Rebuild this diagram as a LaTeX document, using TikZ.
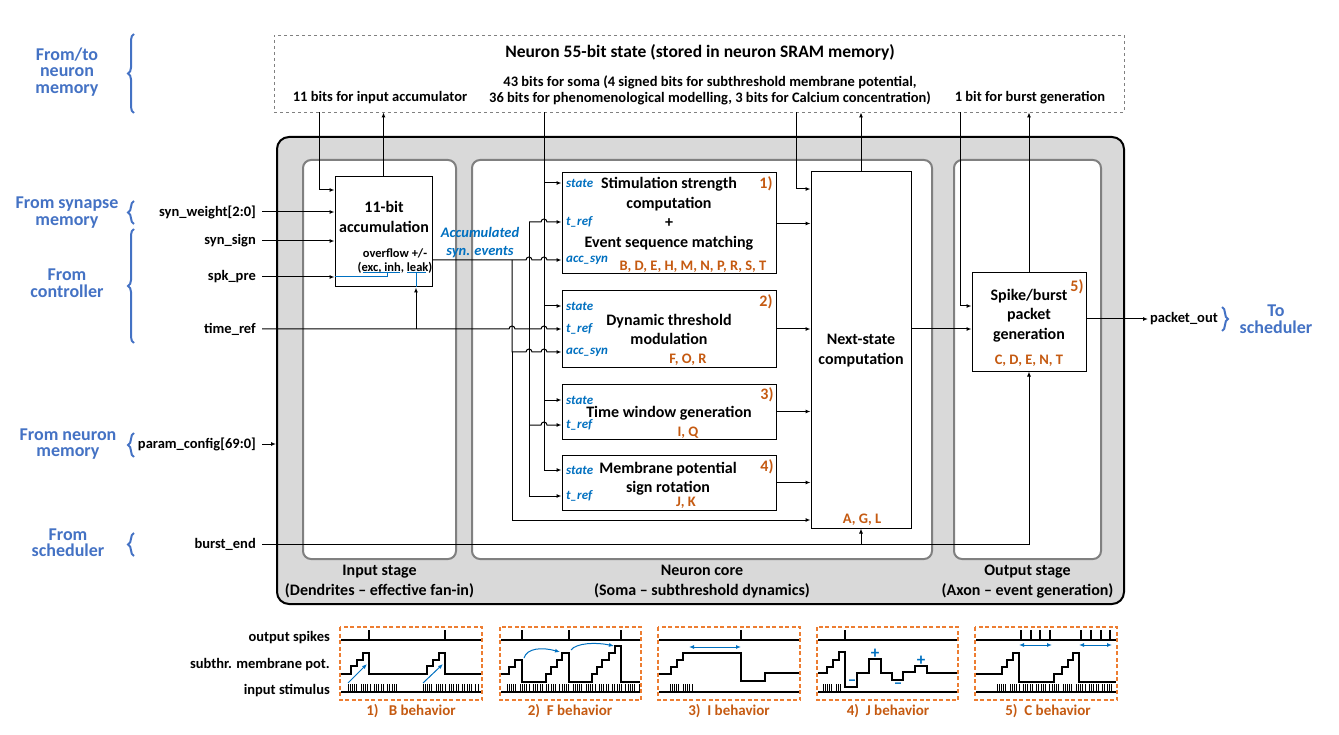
\documentclass[tikz,border=0pt]{standalone}
\usepackage{fontspec}
\setmainfont{Carlito}
\usetikzlibrary{arrows.meta,positioning,calc,decorations.pathreplacing}
\definecolor{srcblue}{HTML}{4472C4}
\definecolor{portblue}{HTML}{0070C0}
\definecolor{codeorange}{HTML}{C55A11}
\definecolor{waveorange}{HTML}{ED7D31}
\definecolor{stagegray}{HTML}{D9D9D9}
\definecolor{panelgray}{HTML}{808080}
\tikzset{
  wire/.style={line width=1pt},
  arrow/.style={wire, -{Latex[length=5pt,width=4pt]}},
  bluewire/.style={line width=1pt, draw=portblue},
  twoway/.style={line width=1pt, draw=portblue, {Latex[length=5pt,width=4pt]}-{Latex[length=5pt,width=4pt]}},
  fnbox/.style={draw=black, line width=1pt, fill=white, inner sep=0pt},
  membox/.style={draw=black!50, dashed, line width=0.8pt, inner sep=0pt},
  outerbox/.style={draw=black, line width=2pt, fill=stagegray, rounded corners=12pt, inner sep=0pt},
  stagepanel/.style={draw=panelgray, line width=2pt, fill=white, rounded corners=8pt, inner sep=0pt},
  sigtext/.style={font=\fontsize{14.5}{16}\selectfont\bfseries, inner sep=0pt},
  sigin/.style={sigtext, anchor=east, inner xsep=6pt},
  memtext/.style={font=\fontsize{14.5}{15.5}\selectfont\bfseries, align=center, inner sep=0pt},
  boxtext/.style={font=\fontsize{16}{19.5}\selectfont\bfseries, align=center, inner sep=0pt},
  port/.style={font=\fontsize{13}{14}\selectfont\bfseries\itshape, text=portblue, anchor=west, inner sep=0pt},
  lettercode/.style={font=\fontsize{14.5}{16}\selectfont\bfseries, text=codeorange, inner sep=0pt},
  boxnum/.style={font=\fontsize{16}{18}\selectfont\bfseries, text=codeorange, inner sep=0pt},
  srclabel/.style={font=\fontsize{18}{16.5}\selectfont\bfseries, text=srcblue, align=center, inner sep=0pt},
  srcbrace/.style={draw=srcblue, line width=2pt, decorate, decoration={brace, amplitude=6pt}},
  wave/.style={line width=1.2pt},
  stimtick/.style={line width=0.8pt},
  wavepanel/.style={draw=waveorange, line width=2.5pt, dash pattern=on 4pt off 2.5pt},
  wavelabel/.style={font=\fontsize{14.5}{16}\selectfont\bfseries, anchor=east, inner sep=0pt},
  behavior/.style={font=\fontsize{15}{16}\selectfont\bfseries, text=codeorange, inner sep=0pt},
  sign/.style={font=\fontsize{17}{17}\selectfont\bfseries, text=portblue, inner sep=0pt}
}
% input stimulus ticks between two x positions
\newcommand{\stimticks}[2]{%
  \pgfmathtruncatemacro\ntick{(#2-#1)/2.2}%
  \foreach \tk in {0,...,\ntick}{%
    \pgfmathtruncatemacro\tickgap{mod(\tk,6)}%
    \ifnum\tickgap<5 \draw[stimtick] ({#1+2.2*\tk},692) -- ({#1+2.2*\tk},684);\fi}}

\begin{document}
\begin{tikzpicture}[x=1pt,y=-1pt]
\useasboundingbox (0,0) rectangle (1339,735);

% memory and stages
\node[membox, minimum width=850pt, minimum height=77pt] (mem) at (699,73.5) {};
\node[outerbox, minimum width=847pt, minimum height=467pt] (core) at (700.5,370.5) {};
\node[stagepanel, minimum width=153pt, minimum height=399pt] (inpanel) at (379.5,359.5) {};
\node[stagepanel, minimum width=460pt, minimum height=399pt] (corepanel) at (702,359.5) {};
\node[stagepanel, minimum width=147pt, minimum height=399pt] (outpanel) at (1027.5,359.5) {};
\node[boxtext] (instage) at (379.5,581.5) {Input stage\\(Dendrites -- effective fan-in)};
\node[boxtext] (corestage) at (702,581.5) {Neuron core\\(Soma -- subthreshold dynamics)};
\node[boxtext] (outstage) at (1027.5,581.5) {Output stage\\(Axon -- event generation)};

\node[font=\fontsize{17.5}{18}\selectfont\bfseries] (memtitle) at (700,52) {Neuron 55-bit state (stored in neuron SRAM memory)};
\node[memtext] (accbits) at (380,98) {11 bits for input accumulator};
\node[memtext] (somabits) at (710,90.5) {43 bits for soma (4 signed bits for subthreshold membrane potential,\\36 bits for phenomenological modelling, 3 bits for Calcium concentration)};
\node[memtext] (burstbits) at (1030,98) {1 bit for burst generation};

% sources
\node[srclabel] (srcmem) at (67,72) {From/to\\neuron\\memory};
\node[srclabel, font=\fontsize{18}{17}\selectfont\bfseries] (srcsyn) at (67,212.5) {From synapse\\memory};
\node[srclabel] (srcctrl) at (67,283) {From\\controller};
\node[srclabel] (srcparam) at (68,444) {From neuron\\memory};
\node[srclabel] (srcsched) at (68,542.5) {From\\scheduler};
\node[srclabel] (dstsched) at (1276,319) {To\\scheduler};
\draw[srcbrace] (134,113) -- (134,34);
\draw[srcbrace] (134,224) -- (134,201);
\draw[srcbrace] (134,343) -- (134,229);
\draw[srcbrace] (134,457) -- (134,433);
\draw[srcbrace] (134,556) -- (134,533);
\draw[srcbrace] (1222,307) -- (1222,331);

\node[sigin] (wgt) at (262,212) {syn\_weight[2:0]};
\node[sigin] (sign) at (262,241) {syn\_sign};
\node[sigin] (spk) at (262,277) {spk\_pre};
\node[sigin] (tref) at (262,329) {time\_ref};
\node[sigin] (param) at (262,444) {param\_config[69:0]};
\node[sigin] (bend) at (262,544) {burst\_end};
\node[sigtext, anchor=west, inner xsep=2pt] (pout) at (1148,319) {packet\_out};

% blocks
\node[fnbox, minimum width=97pt, minimum height=110pt] (acc) at (383.5,232) {};
\node[fnbox, minimum width=214pt, minimum height=101pt] (stim) at (669,223.5) {};
\node[fnbox, minimum width=214pt, minimum height=76pt] (dyn) at (669,329) {};
\node[fnbox, minimum width=214pt, minimum height=55pt] (tw) at (669,411.5) {};
\node[fnbox, minimum width=214pt, minimum height=55pt] (memb) at (669,482.5) {};
\node[fnbox, minimum width=100pt, minimum height=356pt] (next) at (861,350) {};
\node[fnbox, minimum width=114pt, minimum height=98pt] (spike) at (1029,322) {};

\node[boxtext] at (384,217) {11-bit\\accumulation};
\node[font=\fontsize{12.5}{14}\selectfont\bfseries, align=center, inner sep=0pt] at (395,261) {overflow +/-\\(exc, inh, leak)};
\node[boxtext] at (669,213.5) {Stimulation strength\\computation\\+\\Event sequence matching};
\node[boxtext] at (669,329.5) {Dynamic threshold\\modulation};
\node[boxtext] at (669,413) {Time window generation};
\node[boxtext] at (668,478.5) {Membrane potential\\sign rotation};
\node[boxtext] at (861,350.5) {Next-state\\computation};
\node[boxtext] at (1029,315.5) {Spike/burst\\packet\\generation};

\node[boxnum] at (766,184) {1)};
\node[boxnum] at (766,302) {2)};
\node[boxnum] at (767,395) {3)};
\node[boxnum] at (767,467) {4)};
\node[boxnum] at (1077,287) {5)};
\node[lettercode] at (693,267) {B, D, E, H, M, N, P, R, S, T};
\node[lettercode] at (688,360) {F, O, R};
\node[lettercode] at (688,433) {I, Q};
\node[lettercode] at (686,503) {J, K};
\node[lettercode] at (862,520) {A, G, L};
\node[lettercode] at (1029,361) {C, D, E, N, T};

\node[port] at (566,183) {state};
\node[port] at (566,222) {t\_ref};
\node[port] at (566,260) {acc\_syn};
\node[port] at (566,306) {state};
\node[port] at (566,329) {t\_ref};
\node[port] at (566,352) {acc\_syn};
\node[port] at (566,400) {state};
\node[port] at (566,425) {t\_ref};
\node[port] at (566,470) {state};
\node[port] at (566,496) {t\_ref};
\node[font=\fontsize{14.5}{18}\selectfont\bfseries\itshape, text=portblue, align=center, inner sep=0pt] at (480,243) {Accumulated\\syn. events};

% input stage wiring
\draw[arrow] (wgt.east) -- (acc.west |- wgt.east);
\draw[arrow] (sign.east) -- (acc.west |- sign.east);
\draw[arrow] (spk.east) -- (acc.west |- spk.east);
\draw[arrow] (param.east) -- (core.west |- param.east);
\draw[arrow] (mem.south -| 319,0) |- (acc.west |- 0,190);
\draw[arrow] (acc.north) -- (acc.north |- mem.south);
\coordinate (leak) at (416,273);
\draw[arrow] (leak |- tref.east) -- (leak |- acc.south);
\draw[bluewire] (acc.west |- spk.east) -- (387,277) -- (387,273);
\draw[bluewire] (363,273) -- (400,273);
\draw[bluewire] (407,273) -- (426,273);
\draw[bluewire] (leak) -- (leak |- acc.south);

% core buses
\draw[wire] (tref.east) -- (509,329) arc (180:360:3) -- (529,329);
\draw[arrow] (acc.east |- 0,260) -- (526,260) arc (180:360:3) -- (541,260) arc (180:360:3) -- (stim.west |- 0,260);
\draw[arrow] (512,260) -- (512,352) -- (526,352) arc (180:360:3) -- (541,352) arc (180:360:3) -- (dyn.west |- 0,352);
\draw[arrow] (512,352) -- (512,520) -- (next.west |- 0,520);
\draw[wire] (529,222) -- (529,496);
\draw[arrow] (529,222) -- (541,222) arc (180:360:3) -- (stim.west |- 0,222);
\draw[arrow] (529,329) -- (541,329) arc (180:360:3) -- (dyn.west |- 0,329);
\draw[arrow] (529,425) -- (541,425) arc (180:360:3) -- (tw.west |- 0,425);
\draw[arrow] (529,496) -- (memb.west |- 0,496);
\draw[arrow] (mem.south -| 544,0) -- (544,470) -- (memb.west |- 0,470);
\draw[arrow] (544,183) -- (stim.west |- 0,183);
\draw[arrow] (544,306) -- (dyn.west |- 0,306);
\draw[arrow] (544,400) -- (tw.west |- 0,400);

% next state and output
\draw[arrow] (stim.east) -- (next.west |- stim.east);
\draw[arrow] (dyn.east) -- (next.west |- dyn.east);
\draw[arrow] (tw.east) -- (next.west |- tw.east);
\draw[arrow] (memb.east) -- (next.west |- memb.east);
\draw[arrow] (mem.south -| 796,0) |- (next.west |- 0,189);
\draw[arrow] (next.north) -- (next.north |- mem.south);
\draw[arrow] (next.east |- 0,329) -- (spike.west |- 0,329);
\draw[arrow] (mem.south -| 960,0) |- (spike.west |- 0,306);
\draw[arrow] (spike.north) -- (spike.north |- mem.south);
\draw[arrow] (spike.east |- pout.west) -- (pout.west);
\draw[arrow] (bend.east) -| (spike.south);
\draw[arrow] (next.south |- bend.east) -- (next.south);

% behaviour panels
\node[wavelabel] at (330,638) {output spikes};
\node[wavelabel] at (330,665) {subthr. membrane pot.};
\node[wavelabel] at (330,691) {input stimulus};
\draw[wavepanel] (340,627) rectangle (482,700);
\draw[wavepanel] (500,627) rectangle (641,700);
\draw[wavepanel] (658,627) rectangle (800,700);
\draw[wavepanel] (817,627) rectangle (958,700);
\draw[wavepanel] (975,627) rectangle (1117,700);
\foreach \px/\qx in {341/481, 501/640, 659/799, 818/957, 976/1116} {
  \draw[wave] (\px,640) -- (\qx,640);
  \draw[wave] (\px,692) -- (\qx,692);
}

% 1) B
\foreach \sx in {369,445} \draw[wave] (\sx,640) -- (\sx,630);
\draw[wave] (341,674) -| (351,666) -| (357,660) -| (363,653) -| (369,674) -| (427,666) -| (433,660) -| (439,653) -| (445,674) -- (481,674);
\stimticks{348}{400}
\stimticks{423}{478}
\draw[bluewire, -{Latex[length=5pt,width=4pt]}] (348,683) -- (367,664);
\draw[bluewire, -{Latex[length=5pt,width=4pt]}] (423,683) -- (443,664);
\node[behavior] at (411,711) {1)\ \ \ B behavior};

% 2) F
\foreach \sx in {522,569,621} \draw[wave] (\sx,640) -- (\sx,630);
\draw[wave] (501,674) -| (509,667) -| (515,660) -| (522,682) -| (546,674) -| (551,667) -| (557,660) -| (562,653) -| (569,682) -| (592,674) -| (597,667) -| (602,660) -| (609,653) -| (615,646) -| (621,682) -- (640,682);
\stimticks{507}{639}
\draw[bluewire, -{Latex[length=5pt,width=4pt]}] (524,658) .. controls (527,648) and (542,647) .. (560,652);
\draw[bluewire, -{Latex[length=5pt,width=4pt]}] (571,650) .. controls (576,643) and (596,642) .. (614,646);
\node[behavior] at (570,711) {2)\ \ F behavior};

% 3) I
\draw[wave] (741,640) -- (741,630);
\draw[wave] (659,674) -| (671,667) -| (677,660) -| (683,653) -| (741,681) -| (765,673) -- (799,673);
\stimticks{670}{695}
\draw[twoway] (689,647) -- (741,647);
\node[behavior] at (729,711) {3)\ \ I behavior};

% 4) J
\draw[wave] (845,640) -- (845,630);
\draw[wave] (818,673) -| (827,667) -| (833,660) -| (839,652) -| (845,687) -| (857,673) -| (869,659) -| (881,673) -| (892,680) -| (903,672) -| (915,666) -| (927,673) -- (957,673);
\stimticks{823}{842}
\node[sign] at (852,683) {--};
\node[sign] at (875,654) {+};
\node[sign] at (898,686) {--};
\node[sign] at (921,661) {+};
\node[behavior] at (888,711) {4)\ \ J behavior};

% 5) C
\foreach \sx in {1021,1031,1040,1050,1081,1091,1101,1110} \draw[wave] (\sx,640) -- (\sx,630);
\draw[twoway] (1019,645) -- (1052,645);
\draw[twoway] (1079,645) -- (1112,645);
\draw[wave] (976,674) -| (1002,667) -| (1007,660) -| (1013,653) -| (1019,682) -| (1054,674) -| (1062,667) -| (1068,660) -| (1073,653) -| (1079,682) -- (1116,682);
\stimticks{997}{1113}
\node[behavior] at (1048,711) {5)\ \ C behavior};
\end{tikzpicture}
\end{document}
